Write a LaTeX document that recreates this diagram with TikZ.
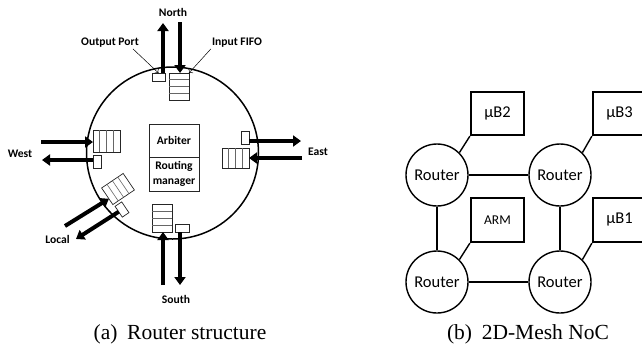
\documentclass[tikz,border=0pt]{standalone}
\usepackage{fontspec}
\setmainfont{Liberation Serif}
\newfontfamily\calib{Carlito}
\usetikzlibrary{arrows.meta,calc}
\begin{document}
\begin{tikzpicture}[x=1pt,y=-1pt,
  lbl/.style={font=\calib\bfseries\fontsize{11.6}{13}\selectfont, inner sep=0},
  bx/.style={draw=black!85, line width=0.7pt, inner sep=0, outer sep=0},
  slot/.style={draw=black!60, line width=0.6pt},
  big/.style={line width=4pt, -{Triangle[length=8pt,width=11pt]}},
  ptr/.style={line width=0.5pt, -{To[length=3pt]}},
  router/.style={circle, draw, line width=1.4pt, minimum size=62pt, inner sep=0,
     font=\calib\fontsize{16.5}{18}\selectfont},
  pe/.style={draw, line width=2.2pt, minimum width=53pt, minimum height=43pt, inner sep=0,
     font=\calib\fontsize{16.5}{18}\selectfont},
  link/.style={line width=1.4pt},
  captxt/.style={font=\fontsize{21.5}{24}\selectfont, inner sep=0}
]
\useasboundingbox (0,0) rectangle (642,354);
\clip (0,0) rectangle (642,354);

% ---------- (a) Router structure ----------
\node[circle, draw, line width=1.5pt, minimum size=172pt, inner sep=0] (rc) at (172.5,153) {};

\node[bx, line width=0.8pt, minimum width=50pt, minimum height=33pt, font=\calib\bfseries\fontsize{11.6}{13}\selectfont] (arb) at (174,140.5) {Arbiter};
\node[bx, line width=0.8pt, minimum width=50pt, minimum height=34pt, align=center, font=\calib\bfseries\fontsize{11.6}{14.5}\selectfont] (rm) at (174,174) {Routing\\manager};

% FIFOs
\node[bx, minimum width=20pt, minimum height=27pt] (nf) at (179,86.5) {};
\node[bx, minimum width=20pt, minimum height=28pt] (sf) at (162,218) {};
\node[bx, minimum width=27pt, minimum height=22pt] (wf) at (106.5,141) {};
\node[bx, minimum width=27pt, minimum height=20pt] (ef) at (235.5,158) {};
\node[bx, minimum width=26pt, minimum height=20pt, rotate=34] (lf) at (118,189) {};
\foreach \f in {nf,sf}{\foreach \t in {0.25,0.5,0.75}{
  \draw[slot] ($(\f.north west)!\t!(\f.south west)$) -- ($(\f.north east)!\t!(\f.south east)$);}}
\foreach \f in {wf,ef,lf}{\foreach \t in {0.25,0.5,0.75}{
  \draw[slot] ($(\f.north west)!\t!(\f.north east)$) -- ($(\f.south west)!\t!(\f.south east)$);}}

% output ports
\node[bx, minimum width=13pt, minimum height=8pt] (no) at (158.5,77) {};
\node[bx, minimum width=14pt, minimum height=8pt] (so) at (182,228) {};
\node[bx, minimum width=8pt, minimum height=13pt] (wo) at (97,161.5) {};
\node[bx, minimum width=8pt, minimum height=13pt] (eo) at (245,137.5) {};
\node[bx, minimum width=8pt, minimum height=13pt, rotate=34] (lo) at (122,209.5) {};

% free ends
\coordinate (nOut) at (163,23);
\coordinate (nIn) at (180,22);
\coordinate (wIn) at (41,142);
\coordinate (wOut) at (42,160);
\coordinate (eOut) at (301,141);
\coordinate (eIn) at (302,158);
\coordinate (sIn) at (163,285);
\coordinate (sOut) at (180,285);
\coordinate (lIn) at (65,226);
\coordinate (lOut) at (76,239);

\draw[big] ([xshift=4.5pt]no.north) -- (nOut);
\draw[big] (nIn) -- (nIn |- nf.north);
\draw[big] (wIn) -- (wIn -| wf.west);
\draw[big] (wOut -| wo.west) -- (wOut);
\draw[big] (eOut -| eo.east) -- (eOut);
\draw[big] (eIn) -- (eIn -| ef.east);
\draw[big] (sIn) -- (sIn |- sf.south);
\draw[big] (sOut |- so.south) -- (sOut);
\draw[big] (lIn) -- ($(lf.west)!0.3!(lf.south west)$);
\draw[big] (lo.west) -- (lOut);

% labels
\node[lbl] (tN) at (173,12) {North};
\node[lbl] (tS) at (176,299) {South};
\node[lbl] (tW) at (20,154) {West};
\node[lbl] (tE) at (318,152) {East};
\node[lbl] (tL) at (57.5,239) {Local};
\node[lbl] (tOP) at (110,43) {Output Port};
\node[lbl] (tIF) at (237,43) {Input FIFO};
\draw[ptr] ([xshift=-6pt,yshift=-1pt]tOP.south east) -- (no.north);
\draw[ptr] ([xshift=-1pt,yshift=-1pt]tIF.south west) -- (nf.north east);

% ---------- (b) 2D-Mesh NoC ----------
\node[router] (r1) at (437,175) {Router};
\node[router] (r2) at (560,175) {Router};
\node[router] (r3) at (437,282) {Router};
\node[router] (r4) at (560,282) {Router};
\node[pe] (b2) at (497.5,113.5) {µB2};
\node[pe] (b3) at (619.5,113.5) {µB3};
\node[pe, minimum height=44pt, font=\calib\fontsize{13.5}{15}\selectfont] (arm) at (497.5,220) {ARM};
\node[pe, minimum height=44pt] (b1) at (619.5,220) {µB1};
\draw[link] (r1) -- (r2);
\draw[link] (r3) -- (r4);
\draw[link] (r1) -- (r3);
\draw[link] (r2) -- (r4);
\draw[link] (r1.north east) -- (b2.south west);
\draw[link] (r2.north east) -- (b3.south west);
\draw[link] (r3.north east) -- (arm.south west);
\draw[link] (r4.north east) -- (b1.south west);

% captions
\node[captxt] (capa) at (180,334) {(a)\hspace{0.45em}Router structure};
\node[captxt] (capb) at (528,334) {(b)\hspace{0.45em}2D-Mesh NoC};
\end{tikzpicture}
\end{document}
